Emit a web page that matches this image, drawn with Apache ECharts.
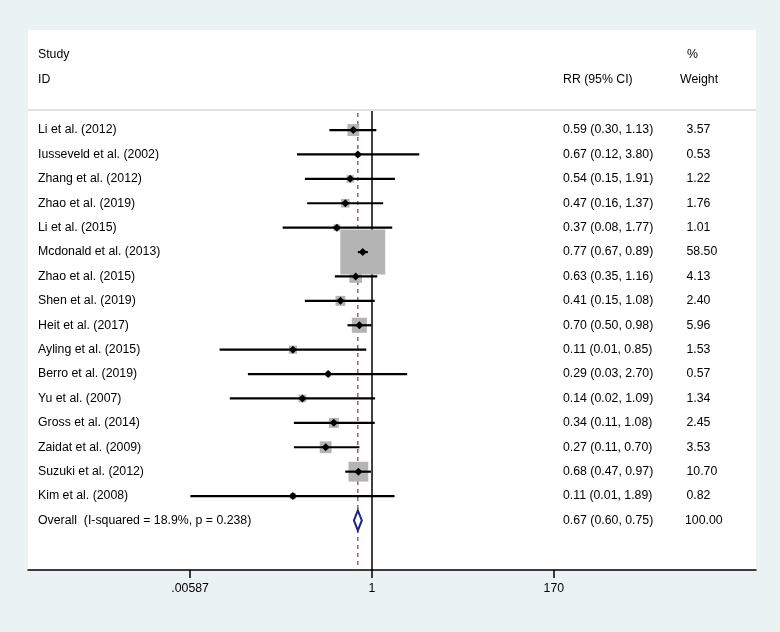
<!DOCTYPE html>
<html>
<head>
<meta charset="utf-8">
<script src="https://cdn.jsdelivr.net/npm/echarts@6/dist/echarts.min.js"></script>
<style>
html,body{margin:0;padding:0;background:#eaf2f3;}
#chart{width:780px;height:632px;}
</style>
</head>
<body>
<div id="chart"></div>
<script>
// ---- data ----
const studies = [
  'Li et al. (2012)', 'Iusseveld et al. (2002)', 'Zhang et al. (2012)', 'Zhao et al. (2019)',
  'Li et al. (2015)', 'Mcdonald et al. (2013)', 'Zhao et al. (2015)', 'Shen et al. (2019)',
  'Heit et al. (2017)', 'Ayling et al. (2015)', 'Berro et al. (2019)', 'Yu et al. (2007)',
  'Gross et al. (2014)', 'Zaidat et al. (2009)', 'Suzuki et al. (2012)', 'Kim et al. (2008)'
];
const rr     = [0.59, 0.67, 0.54, 0.47, 0.37, 0.77, 0.63, 0.41, 0.70, 0.107, 0.29, 0.14, 0.34, 0.27, 0.68, 0.107];
const ciLow  = [0.30, 0.12, 0.15, 0.16, 0.08, 0.67, 0.35, 0.15, 0.50, 0.0135, 0.03, 0.018, 0.11, 0.11, 0.47, 0.0059];
const ciHigh = [1.13, 3.80, 1.91, 1.37, 1.77, 0.89, 1.16, 1.08, 0.98, 0.85, 2.70, 1.09, 1.08, 0.70, 0.97, 1.89];
const weight = [3.57, 0.53, 1.22, 1.76, 1.01, 58.50, 4.13, 2.40, 5.96, 1.53, 0.57, 1.34, 2.45, 3.53, 10.70, 0.82];

const overallLabel = 'Overall  (I-squared = 18.9%, p = 0.238)';
const overallRR = 0.67, overallLow = 0.60, overallHigh = 0.75, overallWeight = 100.00;

const tickValues = [0.00587, 1, 170];
const tickLabels = ['.00587', '1', '170'];
const nullValue = 1;

// ---- build ----
const FONT = "'Liberation Sans', Arial, Helvetica, sans-serif";
const FS = 12.3;
const rows = studies.map((s, i) => [i, rr[i], ciLow[i], ciHigh[i], weight[i]]);
const overallRow = [studies.length, overallRR, overallLow, overallHigh, overallWeight];

function txt(x, y, text, align) {
  return {type: 'text', style: {x: x, y: y, text: text, fill: '#000', font: FS + 'px ' + FONT,
    textAlign: align || 'left', textVerticalAlign: 'middle'}};
}

function renderStudy(params, api) {
  const i = api.value(0);
  const est = api.value(1), lo = api.value(2), hi = api.value(3), w = api.value(4);
  const cs = params.coordSys;
  const pE = api.coord([Math.log(est), i]);
  const pL = api.coord([Math.log(lo), i]);
  const pH = api.coord([Math.log(hi), i]);
  const y = pE[1];
  const side = 5.75 * Math.sqrt(w) + 1;
  const d = 4;
  return {type: 'group', children: [
    {type: 'rect', shape: {x: pE[0] - side / 2, y: y - side / 2, width: side, height: side},
      style: {fill: '#b4b4b4'}},
    {type: 'line', shape: {x1: pL[0], y1: y, x2: pH[0], y2: y},
      style: {stroke: '#000', lineWidth: 2.2}},
    {type: 'polygon', shape: {points: [[pE[0] - d, y], [pE[0], y - d], [pE[0] + d, y], [pE[0], y + d]]},
      style: {fill: '#000'}},
    txt(cs.x + 10, y, studies[i]),
    txt(cs.x + 535, y, est.toFixed(2) + ' (' + lo.toFixed(2) + ', ' + hi.toFixed(2) + ')'),
    txt(cs.x + 658.5, y, w.toFixed(2))
  ]};
}

function renderOverall(params, api) {
  const i = api.value(0);
  const est = api.value(1), lo = api.value(2), hi = api.value(3), w = api.value(4);
  const cs = params.coordSys;
  const pE = api.coord([Math.log(est), i]);
  const pL = api.coord([Math.log(lo), i]);
  const pH = api.coord([Math.log(hi), i]);
  const y = pE[1];
  return {type: 'group', children: [
    {type: 'polygon', shape: {points: [[pL[0], y], [pE[0], y - 10], [pH[0], y], [pE[0], y + 10]]},
      style: {fill: '#fff', stroke: '#1c2580', lineWidth: 2}},
    txt(cs.x + 10, y, overallLabel),
    txt(cs.x + 535, y, est.toFixed(2) + ' (' + lo.toFixed(2) + ', ' + hi.toFixed(2) + ')'),
    txt(cs.x + 657, y, w.toFixed(2))
  ]};
}

function renderRefLines(params, api) {
  const cs = params.coordSys;
  const xNull = api.coord([Math.log(nullValue), 0])[0];
  const xOver = api.coord([Math.log(overallRR), 0])[0];
  const top = cs.y + 81, bottom = cs.y + cs.height;
  return {type: 'group', children: [
    {type: 'line', shape: {x1: cs.x, y1: cs.y + 80, x2: cs.x + cs.width, y2: cs.y + 80},
      style: {stroke: '#c4c4c4', lineWidth: 1.2}},
    {type: 'line', shape: {x1: xOver, y1: top + 2, x2: xOver, y2: bottom},
      style: {stroke: '#9b2a35', lineWidth: 1.2, lineDash: [4, 4]}},
    {type: 'line', shape: {x1: xNull, y1: top, x2: xNull, y2: bottom},
      style: {stroke: '#000', lineWidth: 1.5}},
    txt(cs.x + 10, cs.y + 25, 'Study'),
    txt(cs.x + 10, cs.y + 50, 'ID'),
    txt(cs.x + 535, cs.y + 50, 'RR (95% CI)'),
    txt(cs.x + 659, cs.y + 25, '%'),
    txt(cs.x + 652, cs.y + 50, 'Weight')
  ]};
}

const chart = echarts.init(document.getElementById('chart'), null, {renderer: 'canvas'});
chart.setOption({
  backgroundColor: '#eaf2f3',
  animation: false,
  grid: {left: 28, right: 24, top: 30, bottom: 62, show: true, backgroundColor: '#fff', borderWidth: 0},
  xAxis: {
    type: 'value', min: -9.718, max: 10.847, position: 'bottom',
    axisLine: {show: true, onZero: false, lineStyle: {color: '#000', width: 1.5}},
    axisTick: {show: true, length: 8, lineStyle: {color: '#000', width: 1.5},
      customValues: tickValues.map(v => Math.log(v))},
    axisLabel: {show: true, margin: 13, color: '#000', fontSize: FS, fontFamily: FONT,
      customValues: tickValues.map(v => Math.log(v)),
      formatter: function (v) {
        let best = 0, bd = Infinity;
        tickValues.forEach((t, k) => { const dd = Math.abs(Math.log(t) - v); if (dd < bd) { bd = dd; best = k; } });
        return tickLabels[best];
      }},
    splitLine: {show: false}
  },
  yAxis: {type: 'value', inverse: true, min: -4.1, max: 18.03, show: false, splitLine: {show: false}},
  series: [
    {type: 'custom', renderItem: renderRefLines, data: [[0]], silent: true, z: 1},
    {type: 'custom', renderItem: renderStudy, data: rows, silent: true, z: 2},
    {type: 'custom', renderItem: renderOverall, data: [overallRow], silent: true, z: 3}
  ]
});
</script>
</body>
</html>
